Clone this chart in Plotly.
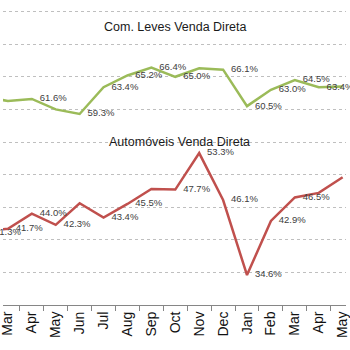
import plotly.graph_objects as go

# Monthly direct-sales share (%), Feb through May of the following year
months = ["Feb", "Mar", "Apr", "May", "Jun", "Jul", "Aug", "Sep", "Oct",
          "Nov", "Dec", "Jan", "Feb", "Mar", "Apr", "May"]
com_leves = [61.9, 61.3, 61.6, 60.0, 59.3, 63.4, 65.2, 66.4, 65.0,
             66.3, 66.1, 60.5, 63.0, 64.5, 63.4, 63.5]
automoveis = [41.3, 41.7, 44.0, 42.3, 45.6, 43.4, 45.5, 47.8, 47.7,
              53.3, 46.1, 34.6, 42.9, 46.5, 47.2, 49.6]

# which points carry a value label
com_leves_labeled = [False, False, True, False, True, True, True, True, True,
                     False, True, True, True, True, True, False]
automoveis_labeled = [True, True, True, True, False, True, True, False, True,
                      True, True, True, True, True, False, False]

x = list(range(len(months)))
X_RANGE = [0.795, 15.14]

GREEN = "#9BBB59"
RED = "#C0504D"
LABEL_FONT = dict(family="Liberation Sans", size=9.5, color="#404040")


def in_range(i):
    return X_RANGE[0] <= i <= X_RANGE[1]


def labels(values, flags):
    return [f"{v:.1f}%" if (show and in_range(i)) else ""
            for i, (v, show) in enumerate(zip(values, flags))]


fig = go.Figure()
annotations = []
for values, flags, color in ((com_leves, com_leves_labeled, GREEN),
                             (automoveis, automoveis_labeled, RED)):
    fig.add_trace(go.Scatter(x=x, y=values, mode="lines",
                             line=dict(color=color, width=2.5), hoverinfo="skip"))
    # value labels to the right of each point (invisible markers set the offset)
    fig.add_trace(go.Scatter(x=x, y=values, mode="markers+text",
                             marker=dict(size=11, opacity=0),
                             text=labels(values, flags),
                             textposition="middle right",
                             textfont=LABEL_FONT, cliponaxis=False,
                             hoverinfo="skip"))
    # points just outside the visible x range still show their label spilling in
    for i, (v, show) in enumerate(zip(values, flags)):
        if show and not in_range(i):
            px = (i - X_RANGE[0]) / (X_RANGE[1] - X_RANGE[0])
            annotations.append(dict(
                x=px, y=v, xref="paper", yref="y", text=f"{v:.1f}%",
                showarrow=False, xanchor="left", yanchor="middle",
                xshift=8, font=LABEL_FONT))

annotations += [
    dict(x=0.5, y=72.7, xref="paper", yref="y",
         text="Com. Leves Venda Direta", showarrow=False,
         font=dict(family="Liberation Sans", size=12.5, color="#1a1a1a")),
    dict(x=0.515, y=55.0, xref="paper", yref="y",
         text="Automóveis Venda Direta", showarrow=False,
         font=dict(family="Liberation Sans", size=12.5, color="#1a1a1a")),
]

fig.update_layout(
    width=350, height=350,
    margin=dict(l=0, r=0, t=0, b=45),
    paper_bgcolor="white", plot_bgcolor="white",
    showlegend=False,
    annotations=annotations,
    xaxis=dict(
        range=X_RANGE,
        tickvals=x, ticktext=months, tickangle=-90,
        ticklabeloverflow="allow",
        ticks="", showgrid=False, zeroline=False,
        showline=True, linecolor="#868686", linewidth=1,
        tickfont=dict(family="Liberation Sans", size=14, color="#111111"),
        minor=dict(tickvals=[i + 0.5 for i in x], ticks="outside",
                   ticklen=5, tickcolor="#868686", showgrid=False),
    ),
    yaxis=dict(
        range=[30, 76.78], dtick=5, tick0=30,
        showticklabels=False, ticks="", zeroline=False,
        showgrid=True, gridcolor="#BFBFBF", griddash="dot", gridwidth=1,
    ),
)

fig.write_html("out.html")
